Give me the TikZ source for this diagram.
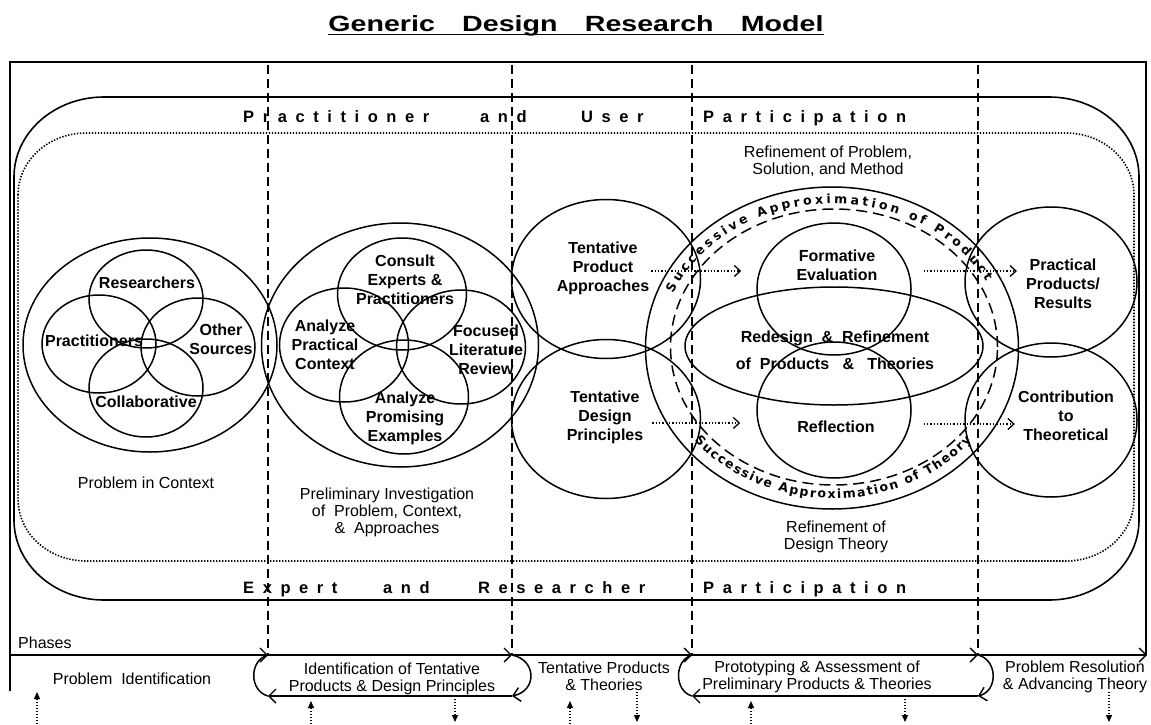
\documentclass[tikz,border=0pt]{standalone}
\usepackage{fontspec}
\setmainfont{Liberation Sans}
\newfontfamily\spacedfont[LetterSpace=52]{Liberation Sans}
\newfontfamily\arcfamily{DejaVu Sans}
\usetikzlibrary{shapes.geometric,arrows.meta,decorations.text}
\newcommand{\lblf}{\fontsize{16}{19}\selectfont\bfseries}
\newcommand{\txtf}{\fontsize{16}{17}\selectfont}
\newcommand{\partf}{\spacedfont\fontsize{16.5}{18}\selectfont\bfseries}
\newcommand{\arcf}{\arcfamily\fontsize{12.5}{13}\selectfont\bfseries}
\newcommand{\titlef}{\fontsize{22}{26}\selectfont\bfseries}
\begin{document}
\begin{tikzpicture}[x=1pt,y=-1pt,
  ell/.style={ellipse, draw, line width=1.5pt, inner sep=0pt},
  lbl/.style={align=center, font=\lblf, inner sep=0pt},
  txt/.style={align=center, font=\txtf, inner sep=0pt},
  part/.style={anchor=base west, font=\partf, inner sep=0pt},
  frame/.style={line width=1.8pt},
  solidbox/.style={line width=1.6pt},
  dotbox/.style={line width=1.6pt, dash pattern=on 1.4pt off 1.6pt},
  phaseline/.style={line width=1.5pt},
  chev/.style={-{Straight Barb[length=7pt,width=14pt,line width=1.4pt]}},
  vdash/.style={line width=1.6pt, dash pattern=on 9pt off 5pt},
  darrow/.style={line width=1.4pt, dash pattern=on 1.3pt off 2pt, -{Straight Barb[length=6pt,width=11pt,line width=1.3pt]}},
  varrow/.style={line width=1.3pt, dash pattern=on 1.3pt off 1.7pt, -{Triangle[length=7pt,width=6pt]}},
]
\useasboundingbox (0,0) rectangle (1151,725);

% title
\node[anchor=base, inner sep=0pt, font=\titlef] (title) at (576,32)
  {\scalebox{1.3}[1]{Generic\hspace{21pt}Design\hspace{21pt}Research\hspace{21pt}Model}};
\draw[line width=1.6pt] ([yshift=-2.5pt]title.base west) -- ([yshift=-2.5pt]title.base east);

% frame
\coordinate (fTL) at (10,62);
\coordinate (fTR) at (1146,62);
\coordinate (fBL) at (10,691);
\coordinate (ph0) at (10,655);
\coordinate (ph1) at (268,655);
\coordinate (ph2) at (512,655);
\coordinate (ph3) at (692,655);
\coordinate (ph4) at (978,655);
\coordinate (ph5) at (1147,655);
\draw[frame] (fBL) -- (fTL) -- (fTR) -- (1146,655);

% outer rounded box
\draw[solidbox] (14,177) arc[start angle=180,end angle=270,x radius=90,y radius=80]
  -- (1049,97) arc[start angle=270,end angle=360,x radius=90,y radius=80]
  -- (1139,520) arc[start angle=0,end angle=90,x radius=90,y radius=80]
  -- (104,600) arc[start angle=90,end angle=180,x radius=90,y radius=80] -- cycle;
% dotted rounded box
\draw[dotbox] (18,195) arc[start angle=180,end angle=270,x radius=68,y radius=62]
  -- (1066,133) arc[start angle=270,end angle=360,x radius=68,y radius=62]
  -- (1134,499) arc[start angle=0,end angle=90,x radius=68,y radius=62]
  -- (86,561) arc[start angle=90,end angle=180,x radius=68,y radius=62] -- cycle;

% participation rows
\node[part] (w1) at (243,122) {Practitioner};
\node[part] (w2) at (480,122) {and};
\node[part] (w3) at (581,122) {User};
\node[part] (w4) at (703,122) {Participation};
\node[part] (w5) at (243,593) {Expert};
\node[part] (w6) at (383,593) {and};
\node[part] (w7) at (478,593) {Researcher};
\node[part] (w8) at (703,593) {Participation};

% dashed phase separators
\coordinate (d1) at (268,65);
\coordinate (d2) at (512,65);
\coordinate (d3) at (692,65);
\coordinate (d4) at (978,65);
\draw[vdash] (d1) -- (ph1);
\draw[vdash] (d2) -- (ph2);
\draw[vdash] (d3) -- (ph3);
\draw[vdash] (d4) -- (ph4);

% left group
\node[ell, minimum width=254, minimum height=214] (bigA) at (150,345) {};
\node[ell, minimum width=114, minimum height=98] (cRes) at (146,299) {};
\node[ell, minimum width=114, minimum height=98] (cPra) at (99,344) {};
\node[ell, minimum width=114, minimum height=98] (cOth) at (198,347) {};
\node[ell, minimum width=114, minimum height=98] (cCol) at (146,388) {};
\node[lbl] (lRes) at (147,283) {Researchers};
\node[lbl] (lPra) at (94,341) {Practitioners};
\node[lbl] (lOth) at (221,339) {Other\\Sources};
\node[lbl] (lCol) at (146,402) {Collaborative};
\node[txt] (tPic) at (146,483) {Problem in Context};

% second group
\node[ell, minimum width=277, minimum height=244] (bigB) at (400,345) {};
\node[ell, minimum width=129, minimum height=112] (cCon) at (402,294) {};
\node[ell, minimum width=129, minimum height=114] (cAna) at (344,345) {};
\node[ell, minimum width=129, minimum height=114] (cFoc) at (461,347) {};
\node[ell, minimum width=129, minimum height=114] (cPro) at (404,397) {};
\node[lbl] (lCon) at (405,280) {Consult\\Experts \&\\Practitioners};
\node[lbl] (lAna) at (325,345) {Analyze\\Practical\\Context};
\node[lbl] (lFoc) at (486,350) {Focused\\Literature\\Review};
\node[lbl] (lPro) at (405,418) {Analyze\\Promising\\Examples};
\node[txt] (tPre) at (387,512) {Preliminary Investigation\\of~~Problem, Context,\\\&~~Approaches};

% third group
\node[ell, minimum width=189, minimum height=159] (cTpa) at (606,279) {};
\node[ell, minimum width=189, minimum height=159] (cTdp) at (606,419) {};
\node[lbl] (lTpa) at (603,268) {Tentative\\Product\\Approaches};
\node[lbl] (lTdp) at (605,417) {Tentative\\Design\\Principles};

% successive approximation group
\node[ell, minimum width=373, minimum height=322] (bigC) at (832,348) {};
\node[ell, dash pattern=on 11pt off 6pt, minimum width=327, minimum height=276] (dashC) at (834,347) {};
\node[ell, minimum width=154, minimum height=132] (cFor) at (834,289) {};
\node[ell, minimum width=154, minimum height=136] (cRef) at (834,410) {};
\node[ell, minimum width=298, minimum height=118] (cRed) at (834,346) {};
\node[lbl] (lFor) at (837,265) {Formative\\Evaluation};
\node[lbl] (lRef) at (836,427) {Reflection};
\node[lbl] (lRed) at (835,350) {Redesign~~\&~~Refinement\\[8pt]of~~Products~~~\&~~~Theories};
\node[txt] (tRps) at (828,161) {Refinement of Problem,\\Solution, and Method};
\node[txt] (tRdt) at (836,537) {Refinement of\\Design Theory};
\path[decorate, decoration={text along path, text={|\arcf|Successive Approximation of Product}, text align={fit to path}}]
  (673.3,293.2) arc[start angle=-158,end angle=-27,x radius=172,y radius=143];
\path[decorate, decoration={text along path, text={|\arcf|Successive Approximation of Theory}, text align={fit to path}}]
  (694.3,440.4) arc[start angle=142,end angle=38,x radius=176,y radius=151];

% right group
\node[ell, minimum width=172, minimum height=150] (cPp) at (1051,282) {};
\node[ell, minimum width=172, minimum height=154] (cCt) at (1051,420) {};
\node[lbl] (lPp) at (1063,284) {Practical\\Products/\\Results};
\node[lbl] (lCt) at (1066,416) {Contribution\\to\\Theoretical};

% dotted arrows
\draw[darrow] ([shift={(2,3)}]lTpa.east) -- ([shift={(-15,-18)}]cFor.west);
\draw[darrow] ([shift={(9,6)}]lTdp.east) -- ([shift={(-16,13)}]cRef.west);
\draw[darrow] ([shift={(12,-18)}]cFor.east) -- ([shift={(-9,-13)}]lPp.west);
\draw[darrow] ([shift={(12,14)}]cRef.east) -- ([shift={(-3,8)}]lCt.west);

% phases line
\node[txt, anchor=base west] (tPh) at (18,648) {Phases};
\draw[phaseline, chev] (ph0) -- (ph1);
\draw[phaseline, chev] (ph1) -- (ph2);
\draw[phaseline, chev] (ph2) -- (ph3);
\draw[phaseline, chev] (ph3) -- (ph4);
\draw[phaseline, chev] (ph4) -- (ph5);

% loops
\coordinate (l1a) at (268,696);
\coordinate (l1b) at (512,696);
\coordinate (l2a) at (692,696);
\coordinate (l2b) at (978,696);
\draw[phaseline, chev] (ph2) .. controls (537,660) and (537,691) .. (l1b);
\draw[phaseline, chev] (l1b) -- (l1a);
\draw[phaseline] (l1a) .. controls (249,691) and (249,660) .. (ph1);
\draw[phaseline, chev] (ph4) .. controls (998,660) and (998,691) .. (l2b);
\draw[phaseline, chev] (l2b) -- (l2a);
\draw[phaseline] (l2a) .. controls (674,691) and (674,660) .. (ph3);

% phase texts
\node[txt] (tPid) at (132,679) {Problem~~Identification};
\node[txt] (tIdt) at (392,679) {Identification of Tentative\\Products \& Design Principles};
\node[txt] (tTpt) at (604,676) {Tentative Products\\\& Theories};
\node[txt] (tPat) at (817,677) {Prototyping \& Assessment of\\Preliminary Products \& Theories};
\node[txt] (tPra) at (1075,677) {Problem Resolution\\\& Advancing Theory};

% bottom arrows
\coordinate (u1a) at (37,724);  \coordinate (u1b) at (37,692);
\coordinate (u2a) at (311,724); \coordinate (u2b) at (311,701);
\coordinate (u3a) at (570,724); \coordinate (u3b) at (570,701);
\coordinate (u4a) at (751,724); \coordinate (u4b) at (751,701);
\coordinate (v1a) at (455,699); \coordinate (v1b) at (455,722);
\coordinate (v2a) at (637,692); \coordinate (v2b) at (637,722);
\coordinate (v3a) at (905,699); \coordinate (v3b) at (905,722);
\coordinate (v4a) at (1109,692); \coordinate (v4b) at (1109,722);
\draw[varrow] (u1a) -- (u1b);
\draw[varrow] (u2a) -- (u2b);
\draw[varrow] (u3a) -- (u3b);
\draw[varrow] (u4a) -- (u4b);
\draw[varrow] (v1a) -- (v1b);
\draw[varrow] (v2a) -- (v2b);
\draw[varrow] (v3a) -- (v3b);
\draw[varrow] (v4a) -- (v4b);
\end{tikzpicture}
\end{document}
